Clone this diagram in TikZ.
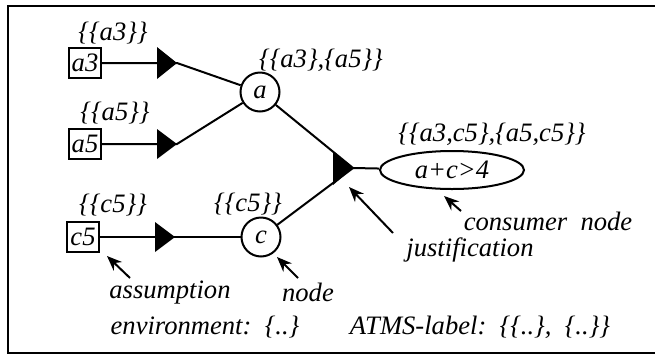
\documentclass[tikz,border=0pt]{standalone}
\usepackage{fontspec}
\setmainfont{Liberation Serif}
\usetikzlibrary{positioning, shapes.geometric, arrows.meta}

\begin{document}
\begin{tikzpicture}[x=0.5pt, y=-0.5pt,
  nodes = {font=\itshape\fontsize{13.3}{16}\selectfont, inner sep=1pt},
  asm/.style = {draw, line width=1pt, minimum width=16pt, minimum height=15pt, inner sep=0pt},
  datum/.style = {draw, circle, line width=1pt, minimum size=19.5pt, inner sep=0pt},
  cons/.style = {draw, ellipse, line width=1pt, minimum width=72pt, minimum height=19pt, inner sep=0pt},
  link/.style = {line width=1pt},
  arr/.style = {line width=1pt, -{Stealth[length=7.5pt, width=6pt]}}
  ]
  \useasboundingbox (0,0) rectangle (655,355);
  \draw [line width=1.2pt] (662,6) -| (8,353) -- (662,353);

  % assumptions
  \node (a3) [asm] at (85,63) {a3};
  \node (a5) [asm] at (85,144) {a5};
  \node (c5) [asm] at (83,237) {c5};
  % ATMS nodes
  \node (a) [datum] at (260,92) {a};
  \node (c) [datum] at (261,237) {c};
  \node (goal) [cons] at (452,170) {a+c>4};
  % justifications (tips)
  \coordinate (j1) at (177,63);
  \coordinate (j2) at (177,144);
  \coordinate (j3) at (175,237);
  \coordinate (j4) at (353,168);

  \draw [link] (a3) -- (j1) -- (a);
  \draw [link] (a5) -- (j2) -- (a);
  \draw [link] (c5) -- (j3) -- (c);
  \draw [link] (a) -- (j4) -- (goal);
  \draw [link] (c) -- (j4);

  \fill (j1) -- ++(-20,-16) -- ++(0,32) -- cycle;
  \fill (j2) -- ++(-20,-15) -- ++(0,30) -- cycle;
  \fill (j3) -- ++(-20,-15) -- ++(0,30) -- cycle;
  \fill (j4) -- ++(-20,-17) -- ++(0,34) -- cycle;

  % labels
  \node (la3) at (113,33) {\{\{a3\}\}};
  \node (la5) at (115,113) {\{\{a5\}\}};
  \node (lc5) at (113,205) {\{\{c5\}\}};
  \node (la) at (321,60) {\{\{a3\},\{a5\}\}};
  \node (lc) at (248,204) {\{\{c5\}\}};
  \node (lgoal) at (492,134) {\{\{a3,c5\},\{a5,c5\}\}};

  % explanations
  \node (tasm) at (170,293) {assumption};
  \node (tnode) at (308,292) {node};
  \node (tjust) at (470,250) {justification};
  \node (tcons) at (548,221) {consumer\ \ node};
  \node (tenv) at (205,327) {environment:\ \ \{..\}};
  \node (tlab) at (480,327) {ATMS-label:\ \ \{\{..\},\ \ \{..\}\}};

  \coordinate (asmtail) at (130,278);
  \coordinate (asmtip) at (107,256);
  \coordinate (nodetail) at (298,278);
  \coordinate (nodetip) at (277,257);
  \coordinate (justtail) at (393,233);
  \coordinate (justtip) at (349,187);
  \coordinate (constail) at (461,211);
  \coordinate (constip) at (444,196);
  \draw [arr] (asmtail) -- (asmtip);
  \draw [arr] (nodetail) -- (nodetip);
  \draw [arr] (justtail) -- (justtip);
  \draw [arr] (constail) -- (constip);
\end{tikzpicture}
\end{document}
